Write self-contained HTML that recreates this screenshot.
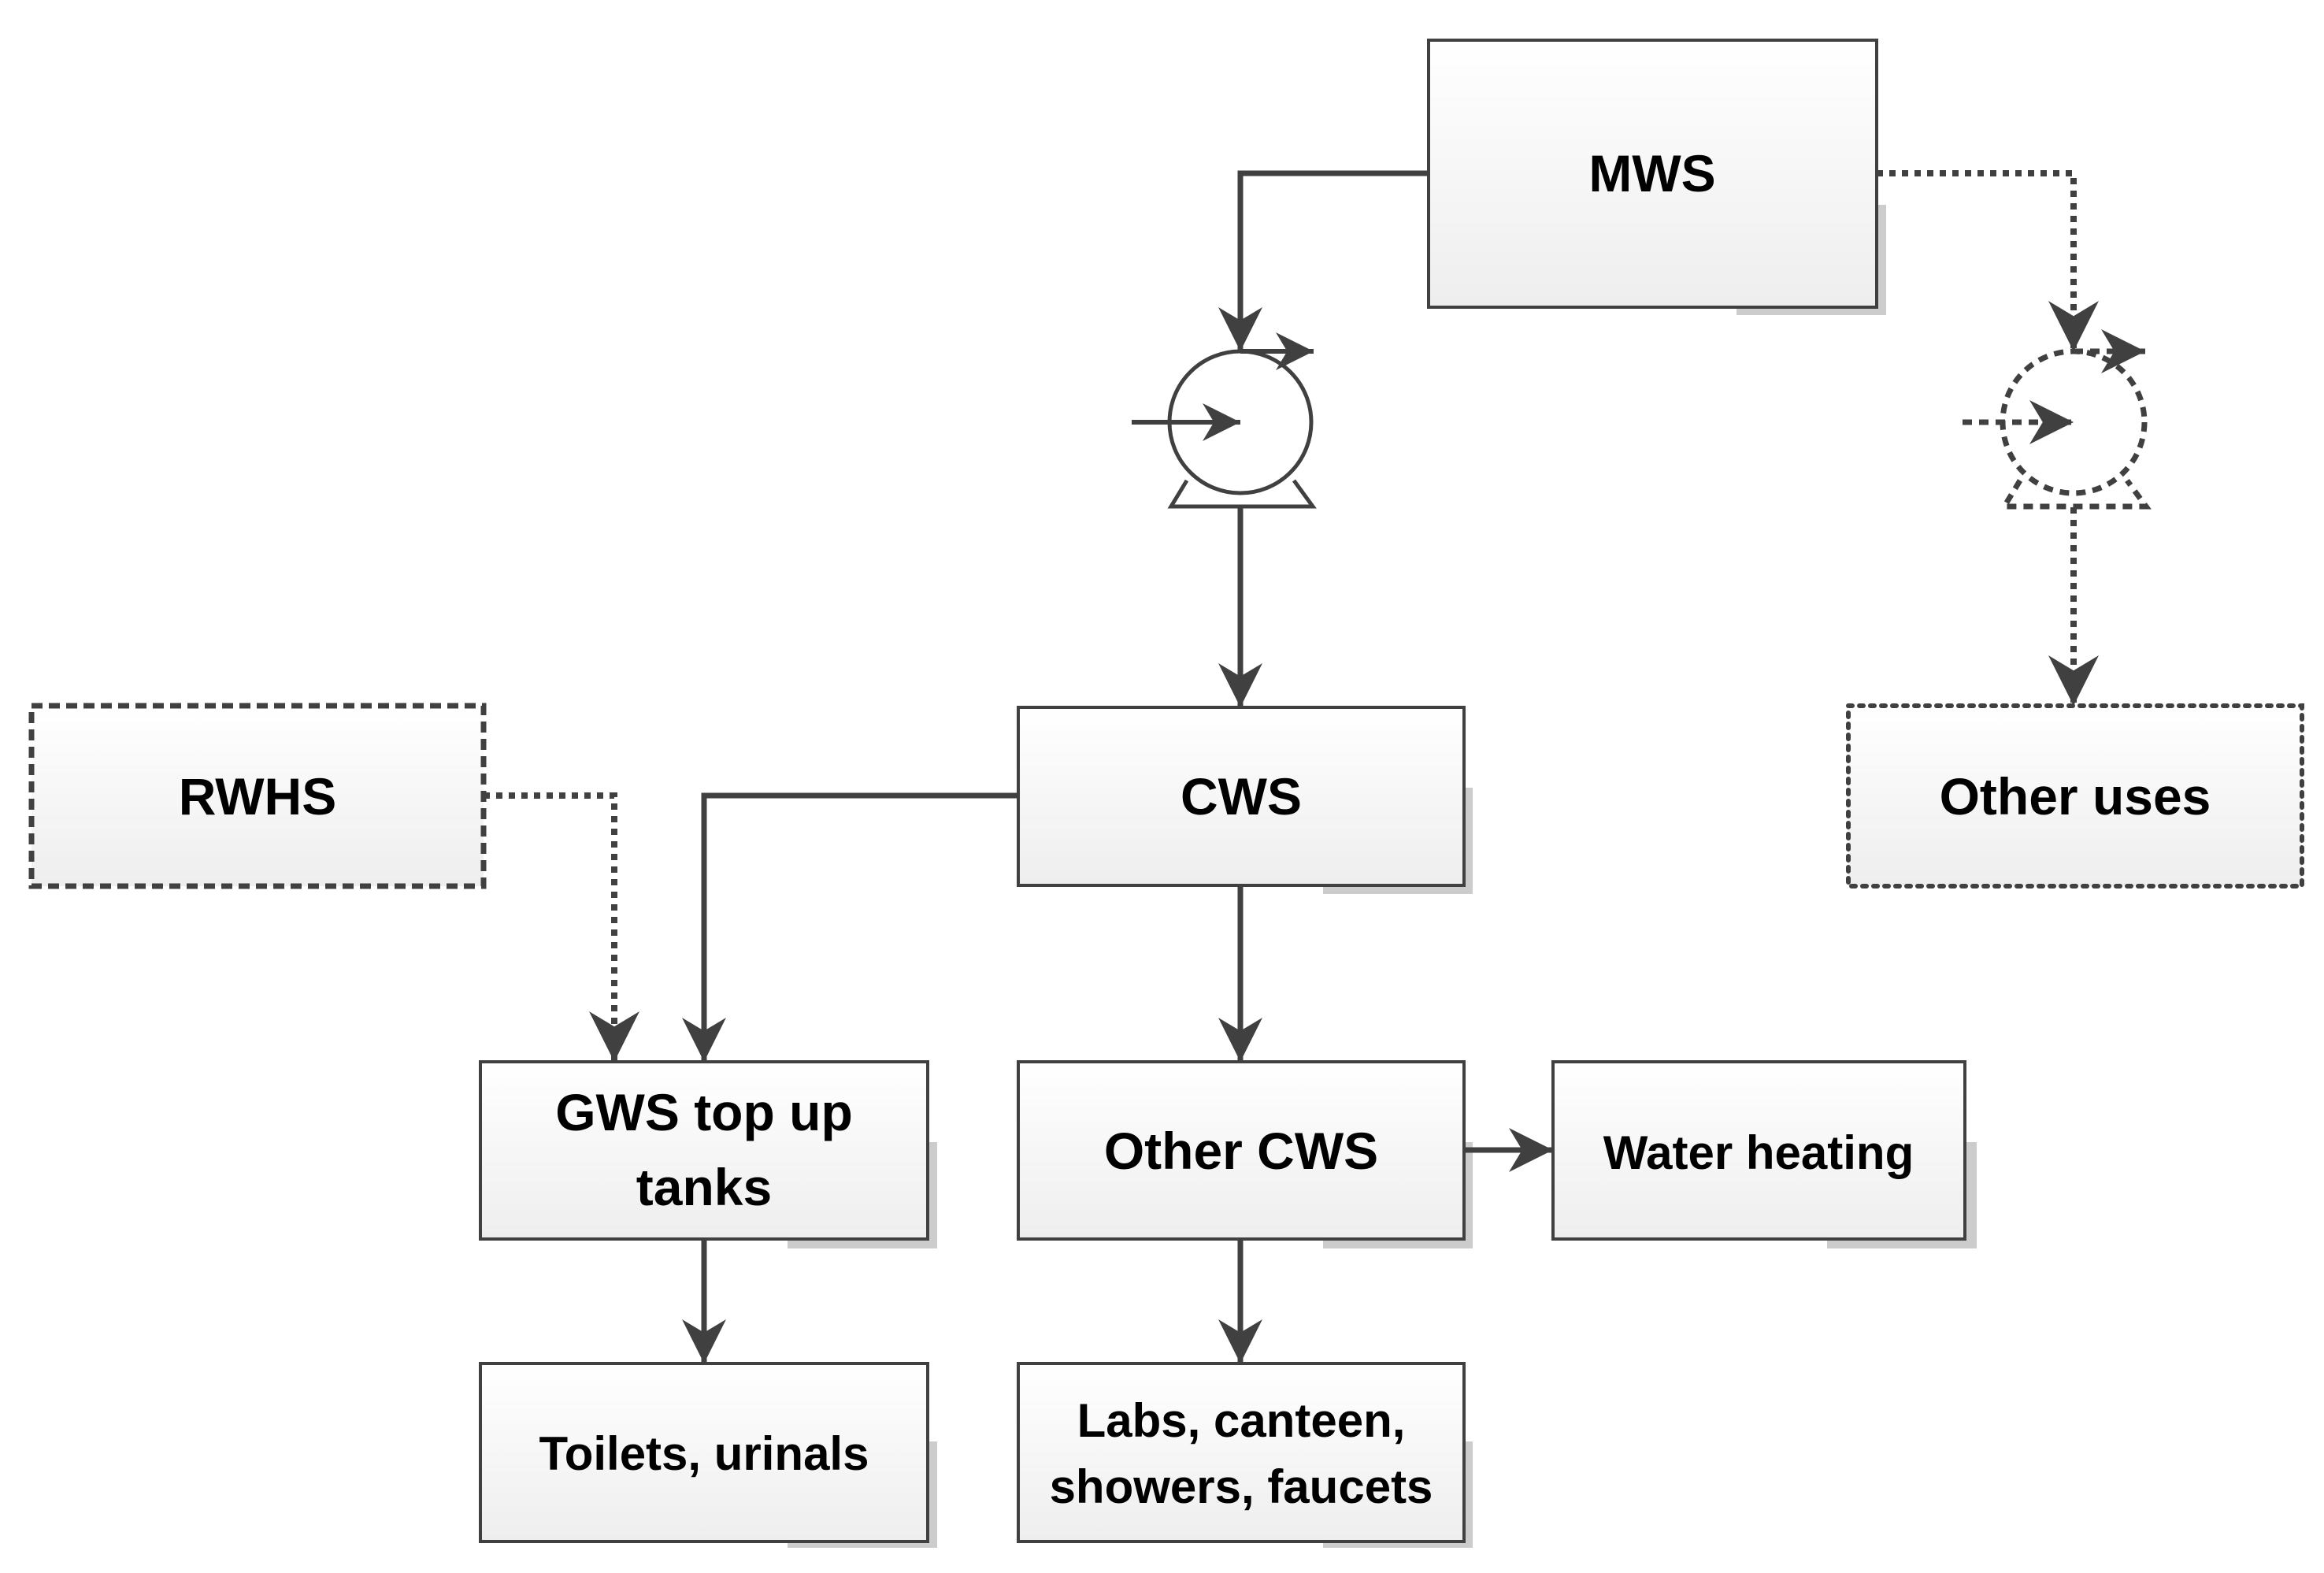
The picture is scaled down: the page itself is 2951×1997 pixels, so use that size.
<!DOCTYPE html>
<html><head><meta charset="utf-8"><style>html,body{margin:0;padding:0;background:#fff}svg{display:block}</style></head><body>
<svg width="2951" height="1997" viewBox="0 0 2951 1997" xmlns="http://www.w3.org/2000/svg">
<defs>
<linearGradient id="g" x1="0" y1="0" x2="0" y2="1"><stop offset="0" stop-color="#ffffff"/><stop offset="1" stop-color="#eeeeee"/></linearGradient>
<marker id="a" viewBox="0 0 10 10" refX="10" refY="5" markerWidth="8" markerHeight="9" markerUnits="strokeWidth" orient="auto"><path d="M0,0 L10,5 L0,10 L3,5 z" fill="#404040"/></marker>
</defs>
<g font-family="Liberation Sans, sans-serif" font-weight="bold" font-size="66" text-anchor="middle" fill="#000">
<g fill="#cccccc">
<rect x="2205" y="260" width="190" height="140"/>
<rect x="1680" y="1000" width="190" height="135"/>
<rect x="1680" y="1450" width="190" height="135"/>
<rect x="2320" y="1450" width="190" height="135"/>
<rect x="1000" y="1450" width="190" height="135"/>
<rect x="1000" y="1830" width="190" height="135"/>
<rect x="1680" y="1830" width="190" height="135"/>
</g>
<g stroke="#404040" stroke-width="4" fill="url(#g)">
<rect x="1814" y="51" width="569" height="339"/>
<rect x="1293" y="898" width="566" height="226"/>
<rect x="610" y="1348" width="568" height="225"/>
<rect x="1293" y="1348" width="566" height="225"/>
<rect x="1972" y="1348" width="523" height="225"/>
<rect x="610" y="1731" width="568" height="226"/>
<rect x="1293" y="1731" width="566" height="226"/>
<rect x="40" y="896" width="574" height="229" stroke-width="7" stroke-dasharray="14 8"/>
<rect x="2347" y="896" width="576" height="229" stroke-width="6" stroke-dasharray="5 9" stroke-linecap="round"/>
</g>
<text x="2098" y="243">MWS</text>
<text x="1576" y="1034">CWS</text>
<text x="327" y="1034">RWHS</text>
<text x="2635" y="1034">Other uses</text>
<text x="894" y="1435">GWS top up</text>
<text x="894" y="1530">tanks</text>
<text x="1576" y="1484">Other CWS</text>
<text x="2233" y="1484" font-size="60">Water heating</text>
<text x="894" y="1866" font-size="60">Toilets, urinals</text>
<text x="1576" y="1824" font-size="60">Labs, canteen,</text>
<text x="1576" y="1908" font-size="60">showers, faucets</text>
</g>
<g fill="none" stroke="#404040" stroke-width="7">
<path d="M1814,220 H1575 V446" marker-end="url(#a)"/>
<path d="M1575,644 V898" marker-end="url(#a)"/>
<path d="M1293,1010 H894 V1348" marker-end="url(#a)"/>
<path d="M1575,1124 V1348" marker-end="url(#a)"/>
<path d="M1859,1460 H1972" marker-end="url(#a)"/>
<path d="M1575,1573 V1731" marker-end="url(#a)"/>
<path d="M894,1573 V1731" marker-end="url(#a)"/>
<g stroke-dasharray="8 8" stroke-width="8">
<path d="M2383,220 H2633 V446" marker-end="url(#a)"/>
<path d="M2633,644 V896" marker-end="url(#a)"/>
<path d="M614,1010 H780 V1348" marker-end="url(#a)"/>
</g>
</g>
<g fill="none" stroke="#404040" stroke-width="5">
<circle cx="1575" cy="536" r="90"/>
<path d="M1507,610 L1487,643 H1667 L1643,610"/>
<path d="M1575,446 H1668" stroke-width="6" marker-end="url(#a)"/>
<path d="M1437,536 H1575" stroke-width="6" marker-end="url(#a)"/>
</g>
<g fill="none" stroke="#404040" stroke-width="7" stroke-dasharray="12 9">
<circle cx="2633" cy="536" r="90"/>
<path d="M2565,610 L2545,643 H2725 L2701,610"/>
<path d="M2633,446 H2724" marker-end="url(#a)"/>
<path d="M2492,536 H2633" marker-end="url(#a)"/>
</g>
</svg>
</body></html>
